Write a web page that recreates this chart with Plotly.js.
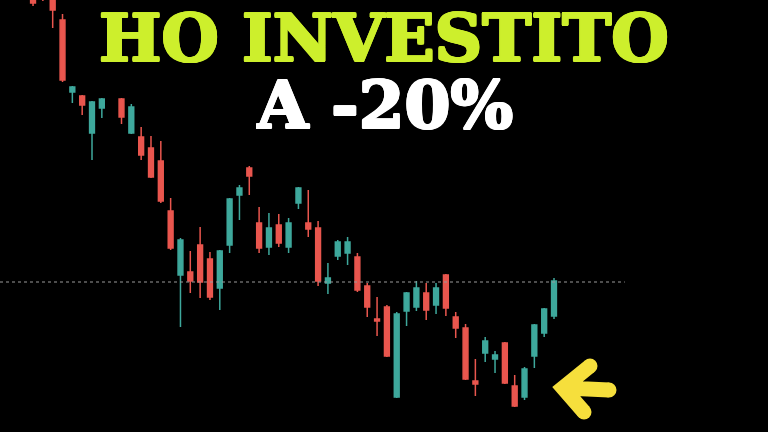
<!DOCTYPE html>
<html>
<head>
<meta charset="utf-8">
<script src="https://cdn.plot.ly/plotly-3.0.1.min.js"></script>
<style>
  html, body { margin: 0; padding: 0; background: #000; }
  #chart { width: 768px; height: 432px; }
</style>
</head>
<body>
<div id="chart"></div>
<script>
// candle index (index 8 has no visible candle)
var days = [0, 1, 2, 3, 4, 5, 6, 7, 9, 10, 11, 12, 13, 14, 15, 16, 17, 18, 19, 20,
            21, 22, 23, 24, 25, 26, 27, 28, 29, 30, 31, 32, 33, 34, 35, 36, 37, 38, 39, 40,
            41, 42, 43, 44, 45, 46, 47, 48, 49, 50, 51, 52, 53];

var openP  = [128.6, 130.2, 128.7, 126.2, 119.0, 118.6, 114.9, 117.4, 118.3, 114.9,
              114.5, 113.4, 112.1, 107.1, 100.7, 101.0, 103.7, 102.3, 99.4, 103.7,
              108.7, 111.4, 105.9, 103.5, 105.7, 103.5, 107.9, 105.9, 105.4, 99.9,
              102.6, 102.9, 102.5, 99.6, 96.3, 97.5, 88.5, 97.1, 97.5, 98.9,
              97.7, 100.7, 96.5, 95.4, 90.1, 92.9, 92.3, 93.9, 89.6, 88.5,
              92.6, 94.9, 96.6];
var highP  = [129.0, 130.7, 129.0, 126.8, 119.6, 118.7, 118.1, 118.4, 118.4, 117.8,
              115.5, 114.6, 114.1, 108.4, 104.4, 103.1, 105.5, 103.0, 103.2, 108.4,
              109.7, 111.6, 107.5, 106.9, 106.8, 106.4, 109.5, 109.2, 106.1, 101.9,
              104.2, 104.5, 102.9, 99.9, 98.5, 97.7, 97.0, 99.0, 100.1, 99.9,
              99.9, 100.8, 97.0, 95.8, 92.3, 94.5, 93.1, 94.0, 90.7, 91.5,
              95.8, 97.4, 100.4];
var lowP   = [127.6, 128.1, 125.4, 120.0, 117.9, 116.7, 112.2, 116.4, 115.8, 114.8,
              112.2, 110.4, 107.9, 103.2, 95.5, 98.9, 98.4, 98.2, 97.2, 102.9,
              106.2, 108.7, 102.9, 102.7, 103.5, 102.9, 107.3, 104.5, 99.6, 98.8,
              102.2, 101.7, 99.0, 96.5, 94.6, 92.5, 88.4, 95.6, 97.1, 96.2,
              96.8, 96.6, 94.4, 90.2, 88.6, 92.0, 90.9, 89.8, 87.5, 88.2,
              91.4, 94.5, 96.3];
var closeP = [127.9, 128.8, 127.2, 120.2, 119.5, 117.7, 118.0, 118.3, 116.5, 117.5,
              112.7, 110.5, 108.1, 103.4, 104.2, 100.1, 100.0, 98.5, 103.1, 108.3,
              109.4, 110.6, 103.4, 105.4, 103.9, 105.9, 109.4, 105.3, 100.1, 100.4,
              104.0, 104.0, 99.2, 97.5, 96.1, 92.6, 96.8, 98.9, 99.4, 97.2,
              99.4, 97.4, 95.4, 90.3, 89.8, 94.1, 92.7, 89.9, 87.6, 91.3,
              95.7, 97.3, 100.1];

var refLevel = 100.0;
var titleLine1 = 'HO INVESTITO';
var titleLine2 = 'A -20%';

var upColor = '#3ea89c';
var downColor = '#e9564e';
var lime = '#cdef2c';
var arrowColor = '#f6df3c';

// pixel -> paper helpers for the decorative arrow / titles
function px(x) { return x / 768; }
function py(y) { return 1 - y / 432; }

// fake an extra-heavy weight by smearing the glyphs a little
function heavy(c) {
  return '1.2px 0 0 ' + c + ', -1.2px 0 0 ' + c + ', 0 1.2px 0 ' + c + ', 0 -1.2px 0 ' + c +
         ', 0.9px 0.9px 0 ' + c + ', -0.9px -0.9px 0 ' + c + ', 0.9px -0.9px 0 ' + c + ', -0.9px 0.9px 0 ' + c;
}

var trace = {
  type: 'candlestick',
  x: days,
  open: openP,
  high: highP,
  low: lowP,
  close: closeP,
  increasing: { line: { color: upColor, width: 1.5 }, fillcolor: upColor },
  decreasing: { line: { color: downColor, width: 1.5 }, fillcolor: downColor },
  whiskerwidth: 0,
  hoverinfo: 'none'
};

var arrowPath = 'M ' + px(590) + ' ' + py(366) + ' L ' + px(563) + ' ' + py(388) +
                ' L ' + px(584) + ' ' + py(412) +
                ' M ' + px(566) + ' ' + py(388) + ' L ' + px(609) + ' ' + py(390);

// round off the arrow ends
function capDot(x, y) {
  return {
    type: 'circle', xref: 'paper', yref: 'paper',
    x0: px(x - 7.5), x1: px(x + 7.5), y0: py(y + 7.5), y1: py(y - 7.5),
    fillcolor: arrowColor, line: { width: 0 }
  };
}

var layout = {
  width: 768,
  height: 432,
  margin: { l: 0, r: 0, t: 0, b: 0 },
  paper_bgcolor: '#000000',
  plot_bgcolor: '#000000',
  showlegend: false,
  xaxis: {
    range: [-3.36, 74.77],
    visible: false,
    rangeslider: { visible: false },
    fixedrange: true
  },
  yaxis: {
    range: [85.0, 128.2],
    visible: false,
    fixedrange: true
  },
  shapes: [
    {
      type: 'line', xref: 'x', yref: 'y',
      x0: -3.36, x1: 60.2, y0: refLevel, y1: refLevel,
      line: { color: '#9a9a9a', width: 1, dash: 'dot' }
    },
    {
      type: 'path', xref: 'paper', yref: 'paper',
      path: arrowPath,
      line: { color: arrowColor, width: 15 }
    },
    capDot(590, 366),
    capDot(584, 412),
    capDot(609, 390)
  ],
  annotations: [
    {
      text: titleLine1, xref: 'paper', yref: 'paper',
      x: px(384), y: py(38), xanchor: 'center', yanchor: 'middle', showarrow: false,
      height: 62, valign: 'middle',
      font: { family: 'DejaVu Serif', size: 66, color: lime, weight: 'bold', shadow: heavy(lime) }
    },
    {
      text: titleLine2, xref: 'paper', yref: 'paper',
      x: px(384), y: py(105), xanchor: 'center', yanchor: 'middle', showarrow: false,
      height: 62, valign: 'middle',
      font: { family: 'DejaVu Serif', size: 66, color: '#ffffff', weight: 'bold', shadow: heavy('#ffffff') }
    }
  ]
};

Plotly.newPlot('chart', [trace], layout, { displayModeBar: false, staticPlot: true });
</script>
</body>
</html>
